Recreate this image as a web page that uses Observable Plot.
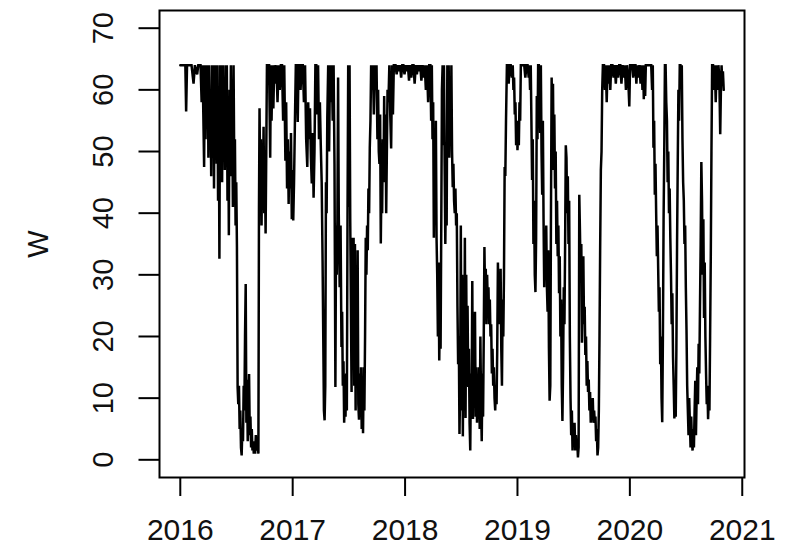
<!DOCTYPE html>
<html>
<head>
<meta charset="utf-8">
<script src="https://cdn.jsdelivr.net/npm/d3@7"></script>
<script src="https://cdn.jsdelivr.net/npm/@observablehq/plot@0.6"></script>
<style>
  html, body { margin: 0; padding: 0; background: #fff; }
  svg { display: block; }
</style>
</head>
<body>
<div id="chart"></div>
<script>
// [decimal year, W] readings, split per year
const w2016 = [
  [2016.000,64],[2016.020,64],[2016.045,64],[2016.052,56.5],[2016.060,64],[2016.080,64],[2016.100,64],[2016.118,61],[2016.130,64],[2016.150,62.5],[2016.160,64],[2016.180,64],[2016.190,58],[2016.198,64],[2016.205,56],[2016.212,47.5],[2016.218,64],
  [2016.225,52],[2016.232,64],[2016.238,55],[2016.245,64],[2016.250,49],[2016.256,64],[2016.262,53],[2016.268,60],[2016.275,46],[2016.282,64],[2016.288,51],[2016.294,64],[2016.300,44],[2016.306,64],[2016.312,54],[2016.318,64],[2016.324,48],[2016.330,64],[2016.336,42],[2016.342,60],[2016.348,32.6],[2016.354,64],[2016.360,50],[2016.366,64],[2016.372,45],[2016.378,64],[2016.384,52],[2016.390,62],[2016.396,47],[2016.402,64],[2016.408,55],[2016.414,64],[2016.420,42],[2016.426,58],[2016.432,36.4],[2016.438,60],[2016.444,46],[2016.450,64],[2016.456,50],[2016.462,56],[2016.468,41],[2016.474,64],[2016.480,48],[2016.486,52],[2016.492,38],[2016.498,45],[2016.504,34.5],
  [2016.510,11.8],[2016.516,9],[2016.522,12],[2016.528,5],[2016.534,8],[2016.540,2],[2016.546,0.7],[2016.552,5],[2016.558,3],[2016.564,12],[2016.570,8],[2016.576,20],[2016.582,28.5],[2016.588,6],[2016.594,13],[2016.600,3],[2016.606,9],[2016.612,13.9],[2016.618,4],[2016.624,7],[2016.630,2],[2016.636,5],[2016.642,1.5],[2016.648,3],[2016.654,1],[2016.660,2],[2016.666,1],[2016.672,4],[2016.680,1.5],[2016.688,2.5],[2016.695,1],
  [2016.700,40.7],[2016.705,57],[2016.711,45],[2016.717,52],[2016.723,38],[2016.729,50],[2016.735,42],[2016.741,54],[2016.747,40],[2016.753,47],[2016.759,36.7],[2016.765,50],[2016.771,64],[2016.778,64],[2016.790,64],[2016.800,49],[2016.806,64],[2016.812,55],[2016.820,64],[2016.828,57],[2016.836,64],[2016.845,61],[2016.855,64],[2016.865,58],[2016.875,64],[2016.885,60],[2016.895,64],
  [2016.905,64],[2016.915,55],[2016.925,64],[2016.935,48.5],[2016.942,58],[2016.950,44],[2016.957,52],[2016.964,41.5],[2016.971,50],[2016.978,44],[2016.985,53],[2016.992,39],[2016.998,47]
];
const w2017 = [
  [2017.005,38.8],[2017.012,45],[2017.020,55],[2017.028,64],[2017.036,64],[2017.045,54.8],[2017.052,64],[2017.060,64],[2017.070,60],[2017.080,64],[2017.090,64],
  [2017.100,58],[2017.110,64],[2017.120,52],[2017.130,47.5],[2017.138,58],[2017.146,52],[2017.154,57],[2017.162,49],[2017.170,44.8],[2017.178,53],[2017.186,42.5],[2017.194,50],
  [2017.202,64],[2017.210,64],[2017.218,56],[2017.226,64],[2017.234,52],[2017.242,58],[2017.250,51],[2017.258,45],[2017.266,32.3],[2017.272,20],[2017.278,8],[2017.284,6.4],[2017.290,12],[2017.296,45],
  [2017.302,40],[2017.308,55.5],[2017.316,64],[2017.324,50],[2017.332,64],[2017.340,58],[2017.348,64],[2017.356,55],[2017.364,64],[2017.372,48],[2017.380,11.8],[2017.386,38],[2017.392,30],[2017.398,39],
  [2017.404,62],[2017.410,40],[2017.418,28],[2017.426,38],[2017.434,18.3],[2017.440,24],[2017.446,12],[2017.452,16],[2017.458,6],[2017.464,10],[2017.470,7],[2017.476,14],[2017.482,8],[2017.488,40],[2017.494,64],[2017.500,41],[2017.506,64],[2017.512,39],[2017.518,25],[2017.524,11],[2017.530,36],[2017.536,20],[2017.542,36],[2017.548,12],[2017.554,35],[2017.560,8],[2017.566,30],[2017.572,15],[2017.578,34],[2017.584,9],[2017.590,6.5],[2017.596,14],[2017.602,7],[2017.608,15],[2017.614,5],[2017.620,12],[2017.626,4.3],[2017.632,15],[2017.638,8],[2017.644,20],
  [2017.650,36],[2017.656,30],[2017.662,38],[2017.668,34],[2017.674,44],[2017.680,40],[2017.686,50.6],[2017.692,55],[2017.698,64],[2017.706,60],[2017.714,64],[2017.722,56],[2017.730,64],[2017.738,60],[2017.746,64],
  [2017.754,52],[2017.760,60],[2017.766,50],[2017.772,48],[2017.778,56],[2017.784,35.1],[2017.790,46],[2017.796,40],[2017.802,52],[2017.808,45],[2017.814,59],[2017.820,48],[2017.826,56],[2017.832,40],[2017.838,50],[2017.844,60],[2017.852,58],[2017.860,64],[2017.868,56],[2017.876,50.5],[2017.884,64],[2017.892,56],[2017.900,64],
  [2017.915,64],[2017.925,62.5],[2017.935,64],[2017.945,63],[2017.955,64],[2017.965,62],[2017.975,64],[2017.985,64],[2017.995,62.5]
];
const w2018 = [
  [2018.005,64],[2018.015,63],[2018.025,64],[2018.035,61.5],[2018.045,64],[2018.055,62],[2018.065,64],[2018.075,64],[2018.085,61],[2018.095,64],[2018.105,62.5],[2018.115,64],[2018.125,63],[2018.135,64],[2018.145,61.5],[2018.155,64],[2018.165,62],[2018.175,64],[2018.185,60],[2018.195,64],[2018.205,58],[2018.215,64],
  [2018.225,64],[2018.232,55],[2018.238,64],[2018.244,52],[2018.250,58],[2018.256,36],[2018.262,50],[2018.268,40],[2018.274,55],[2018.280,36],[2018.286,30],[2018.292,20],[2018.298,32],[2018.304,16.1],[2018.310,25],[2018.316,18],[2018.322,38],[2018.328,60],[2018.334,64],[2018.340,51],[2018.346,64],[2018.352,48],[2018.358,35],[2018.364,45],[2018.370,38],[2018.376,64],[2018.382,55],[2018.388,64],[2018.394,49],[2018.400,58],[2018.406,52],[2018.412,64],[2018.418,50],[2018.424,44.2],[2018.430,48],[2018.436,42],[2018.442,40],[2018.448,44],[2018.454,38],[2018.460,40],
  [2018.466,25],[2018.472,15.5],[2018.478,20],[2018.484,4.2],[2018.490,12],[2018.496,38],[2018.502,8],[2018.508,30],[2018.514,3.8],[2018.520,22],[2018.526,10],[2018.532,36],[2018.538,6.8],[2018.544,30],[2018.550,12],[2018.556,25],[2018.562,11.8],[2018.568,18],[2018.574,6],[2018.580,1.5],[2018.586,14],[2018.592,8],[2018.598,29],[2018.604,6.6],[2018.610,18],[2018.616,10],[2018.622,24],[2018.628,7],[2018.634,15],[2018.640,6],[2018.646,12],[2018.652,8],[2018.658,15],[2018.664,5],[2018.670,20],[2018.676,9],[2018.682,3],[2018.688,14],[2018.694,7],[2018.700,20],
  [2018.706,34.5],[2018.712,26],[2018.718,31],[2018.724,22],[2018.730,30],[2018.736,25],[2018.742,28],[2018.748,22],[2018.754,26],[2018.760,20],[2018.766,22],[2018.772,14],[2018.778,18],[2018.784,12],[2018.790,15],[2018.796,10],[2018.802,8],[2018.808,12],[2018.814,9],[2018.820,18],[2018.826,32],[2018.832,25],[2018.838,30],[2018.844,22],[2018.850,31],[2018.856,18],[2018.862,12],[2018.868,26],[2018.874,20],[2018.880,30],[2018.886,47.5],[2018.892,46],[2018.898,55],
  [2018.906,64],[2018.914,64],[2018.922,61],[2018.930,64],[2018.940,64],[2018.950,62],[2018.958,64],[2018.964,60],[2018.970,62],[2018.976,56],[2018.982,58],[2018.988,51],[2018.994,55]
];
const w2019 = [
  [2019.000,50.2],[2019.006,53],[2019.012,51],[2019.018,58],[2019.024,55],[2019.030,64],[2019.040,64],[2019.050,64],[2019.060,64],[2019.070,62],[2019.080,64],[2019.090,64],[2019.100,62],[2019.106,64],[2019.112,60],[2019.118,64],[2019.124,55],[2019.130,45.4],[2019.136,52],[2019.142,35],[2019.148,42],[2019.154,30],[2019.160,27.2],[2019.166,36],[2019.172,59],[2019.178,52],[2019.184,64],[2019.190,64],[2019.196,60],
  [2019.202,53],[2019.208,64],[2019.214,50],[2019.220,43],[2019.226,55],[2019.232,39],[2019.238,28],[2019.244,36],[2019.250,30],[2019.256,38],[2019.262,28],[2019.268,24],[2019.274,34],[2019.280,18],[2019.286,9.6],[2019.292,12],[2019.298,40],[2019.304,62],[2019.310,55],[2019.316,61],[2019.322,47],[2019.328,56],[2019.334,44],[2019.340,50],[2019.346,35],[2019.352,42],[2019.358,33],[2019.364,38],[2019.370,27],[2019.376,33],[2019.382,20],[2019.388,26],[2019.394,12],[2019.400,6.3],
  [2019.406,15],[2019.412,28],[2019.418,22],[2019.424,35],[2019.430,51],[2019.436,49],[2019.442,40],[2019.448,46],[2019.454,35],[2019.460,42],[2019.466,20],[2019.472,10],[2019.478,4],[2019.484,8],[2019.490,1.5],[2019.496,6],[2019.502,3],[2019.508,6],[2019.514,1.5],[2019.520,4],[2019.526,2],[2019.532,3],[2019.538,0.4],[2019.544,2],
  [2019.550,43],[2019.556,37],[2019.562,30],[2019.568,35],[2019.574,19],[2019.580,28],[2019.586,33],[2019.592,22],[2019.598,24.8],[2019.604,17],[2019.610,20],[2019.616,12],[2019.622,16],[2019.628,11],[2019.634,13],[2019.640,8],[2019.646,11],[2019.652,6],[2019.658,9],[2019.664,7],[2019.670,10],[2019.676,6],[2019.682,8],[2019.688,6],[2019.694,7],[2019.700,3],[2019.706,5],[2019.712,0.7],[2019.718,2],[2019.724,8],
  [2019.730,20.2],[2019.736,35],[2019.742,47],[2019.748,50],[2019.754,60],[2019.760,64],[2019.770,64],[2019.778,60],[2019.786,64],[2019.794,58],[2019.802,64],[2019.810,61],[2019.818,64],[2019.826,60],[2019.834,64],[2019.845,64],[2019.855,62],[2019.865,64],[2019.875,61],[2019.885,64],[2019.895,62],[2019.905,64],[2019.915,64],[2019.925,61],[2019.935,64],[2019.945,62],[2019.955,64],[2019.965,60],[2019.975,64],[2019.985,62],[2019.995,57.3]
];
const w2020 = [
  [2020.002,64],[2020.010,64],[2020.020,64],[2020.030,62],[2020.040,64],[2020.050,64],[2020.058,61],[2020.066,64],[2020.075,62],[2020.085,64],[2020.095,61],[2020.105,64],[2020.112,60],[2020.118,64],[2020.124,58.5],[2020.130,64],[2020.136,59],[2020.142,64],[2020.150,64],[2020.160,64],[2020.170,64],[2020.180,64],[2020.190,64],[2020.198,60],
  [2020.204,64],[2020.210,50.6],[2020.216,55],[2020.222,43],[2020.228,48],[2020.234,40],[2020.240,33],[2020.246,38],[2020.252,31],[2020.258,24],[2020.264,28],[2020.270,15.5],[2020.276,20],[2020.282,10],[2020.288,6.1],[2020.294,20],[2020.300,38.8],[2020.306,50],[2020.312,64],[2020.318,64],[2020.324,58],[2020.330,55],[2020.336,45],[2020.342,50],[2020.348,40],[2020.354,44],[2020.360,36],[2020.366,30],[2020.372,22],[2020.378,27],[2020.384,16.7],[2020.390,12],[2020.396,6.7],[2020.402,10],[2020.408,7],[2020.414,18],[2020.420,35],[2020.426,48],[2020.432,60],[2020.438,55],[2020.444,64],[2020.450,64],[2020.456,61],[2020.462,64],
  [2020.468,52],[2020.474,45],[2020.480,42],[2020.486,35],[2020.492,38],[2020.498,28],[2020.504,21],[2020.510,12],[2020.516,8],[2020.522,4],[2020.528,10],[2020.534,6],[2020.540,2],[2020.546,7],[2020.552,3],[2020.558,1.5],[2020.564,5],[2020.570,2],[2020.576,8],[2020.582,12.8],[2020.588,4],[2020.594,10],[2020.600,15],[2020.606,9],[2020.612,18.8],[2020.618,14],[2020.624,25],[2020.630,35],[2020.636,48.3],
  [2020.642,42],[2020.648,30],[2020.654,39],[2020.660,23],[2020.666,32],[2020.672,20],[2020.678,14],[2020.684,9],[2020.690,12],[2020.696,6.6],[2020.702,10],[2020.708,8],[2020.714,20],[2020.720,33],[2020.726,50],[2020.732,64],[2020.740,64],[2020.748,60],[2020.756,64],[2020.764,58],[2020.772,64],[2020.780,60],[2020.788,64],[2020.796,62],[2020.804,52.8],[2020.810,60],[2020.816,64],[2020.822,61],[2020.828,63],[2020.835,60]
];

const xTicks = [2016, 2017, 2018, 2019, 2020, 2021];
const yTicks = [0, 10, 20, 30, 40, 50, 60, 70];
const yLabel = "W";

const data = [...w2016, ...w2017, ...w2018, ...w2019, ...w2020].map(([t, w]) => ({t, w}));

const font = "'Liberation Sans', Arial, Helvetica, sans-serif";

const chart = Plot.plot({
  width: 800,
  height: 547,
  marginLeft: 159,
  marginRight: 56,
  marginTop: 10,
  marginBottom: 70,
  style: {fontFamily: font, background: "#fff", color: "#000"},
  x: {domain: [2015.815, 2021.02]},
  y: {domain: [-2.87, 72.87]},
  marks: [
    Plot.line(data, {x: "t", y: "w", stroke: "#000", strokeWidth: 2.5, strokeLinejoin: "miter", strokeMiterlimit: 2}),
    Plot.frame({stroke: "#000", strokeWidth: 2}),
    Plot.axisX({ticks: xTicks, tickSize: 19, tickPadding: 22, fontSize: 30, strokeWidth: 2,
      tickFormat: d => String(d), label: null, fill: "#111"}),
    Plot.axisY({ticks: yTicks, tickSize: 20.5, strokeWidth: 2, tickFormat: () => "", label: null}),
    Plot.text(yTicks, {y: d => d, text: d => String(d), frameAnchor: "left", dx: -56, rotate: -90,
      fontSize: 29, textAnchor: "middle", lineAnchor: "middle", fill: "#111"}),
    Plot.text([yLabel], {text: d => d, frameAnchor: "left", dx: -121, rotate: -90,
      fontSize: 29, textAnchor: "middle", lineAnchor: "middle", fill: "#111"})
  ]
});

document.getElementById("chart").appendChild(chart);
</script>
</body>
</html>
